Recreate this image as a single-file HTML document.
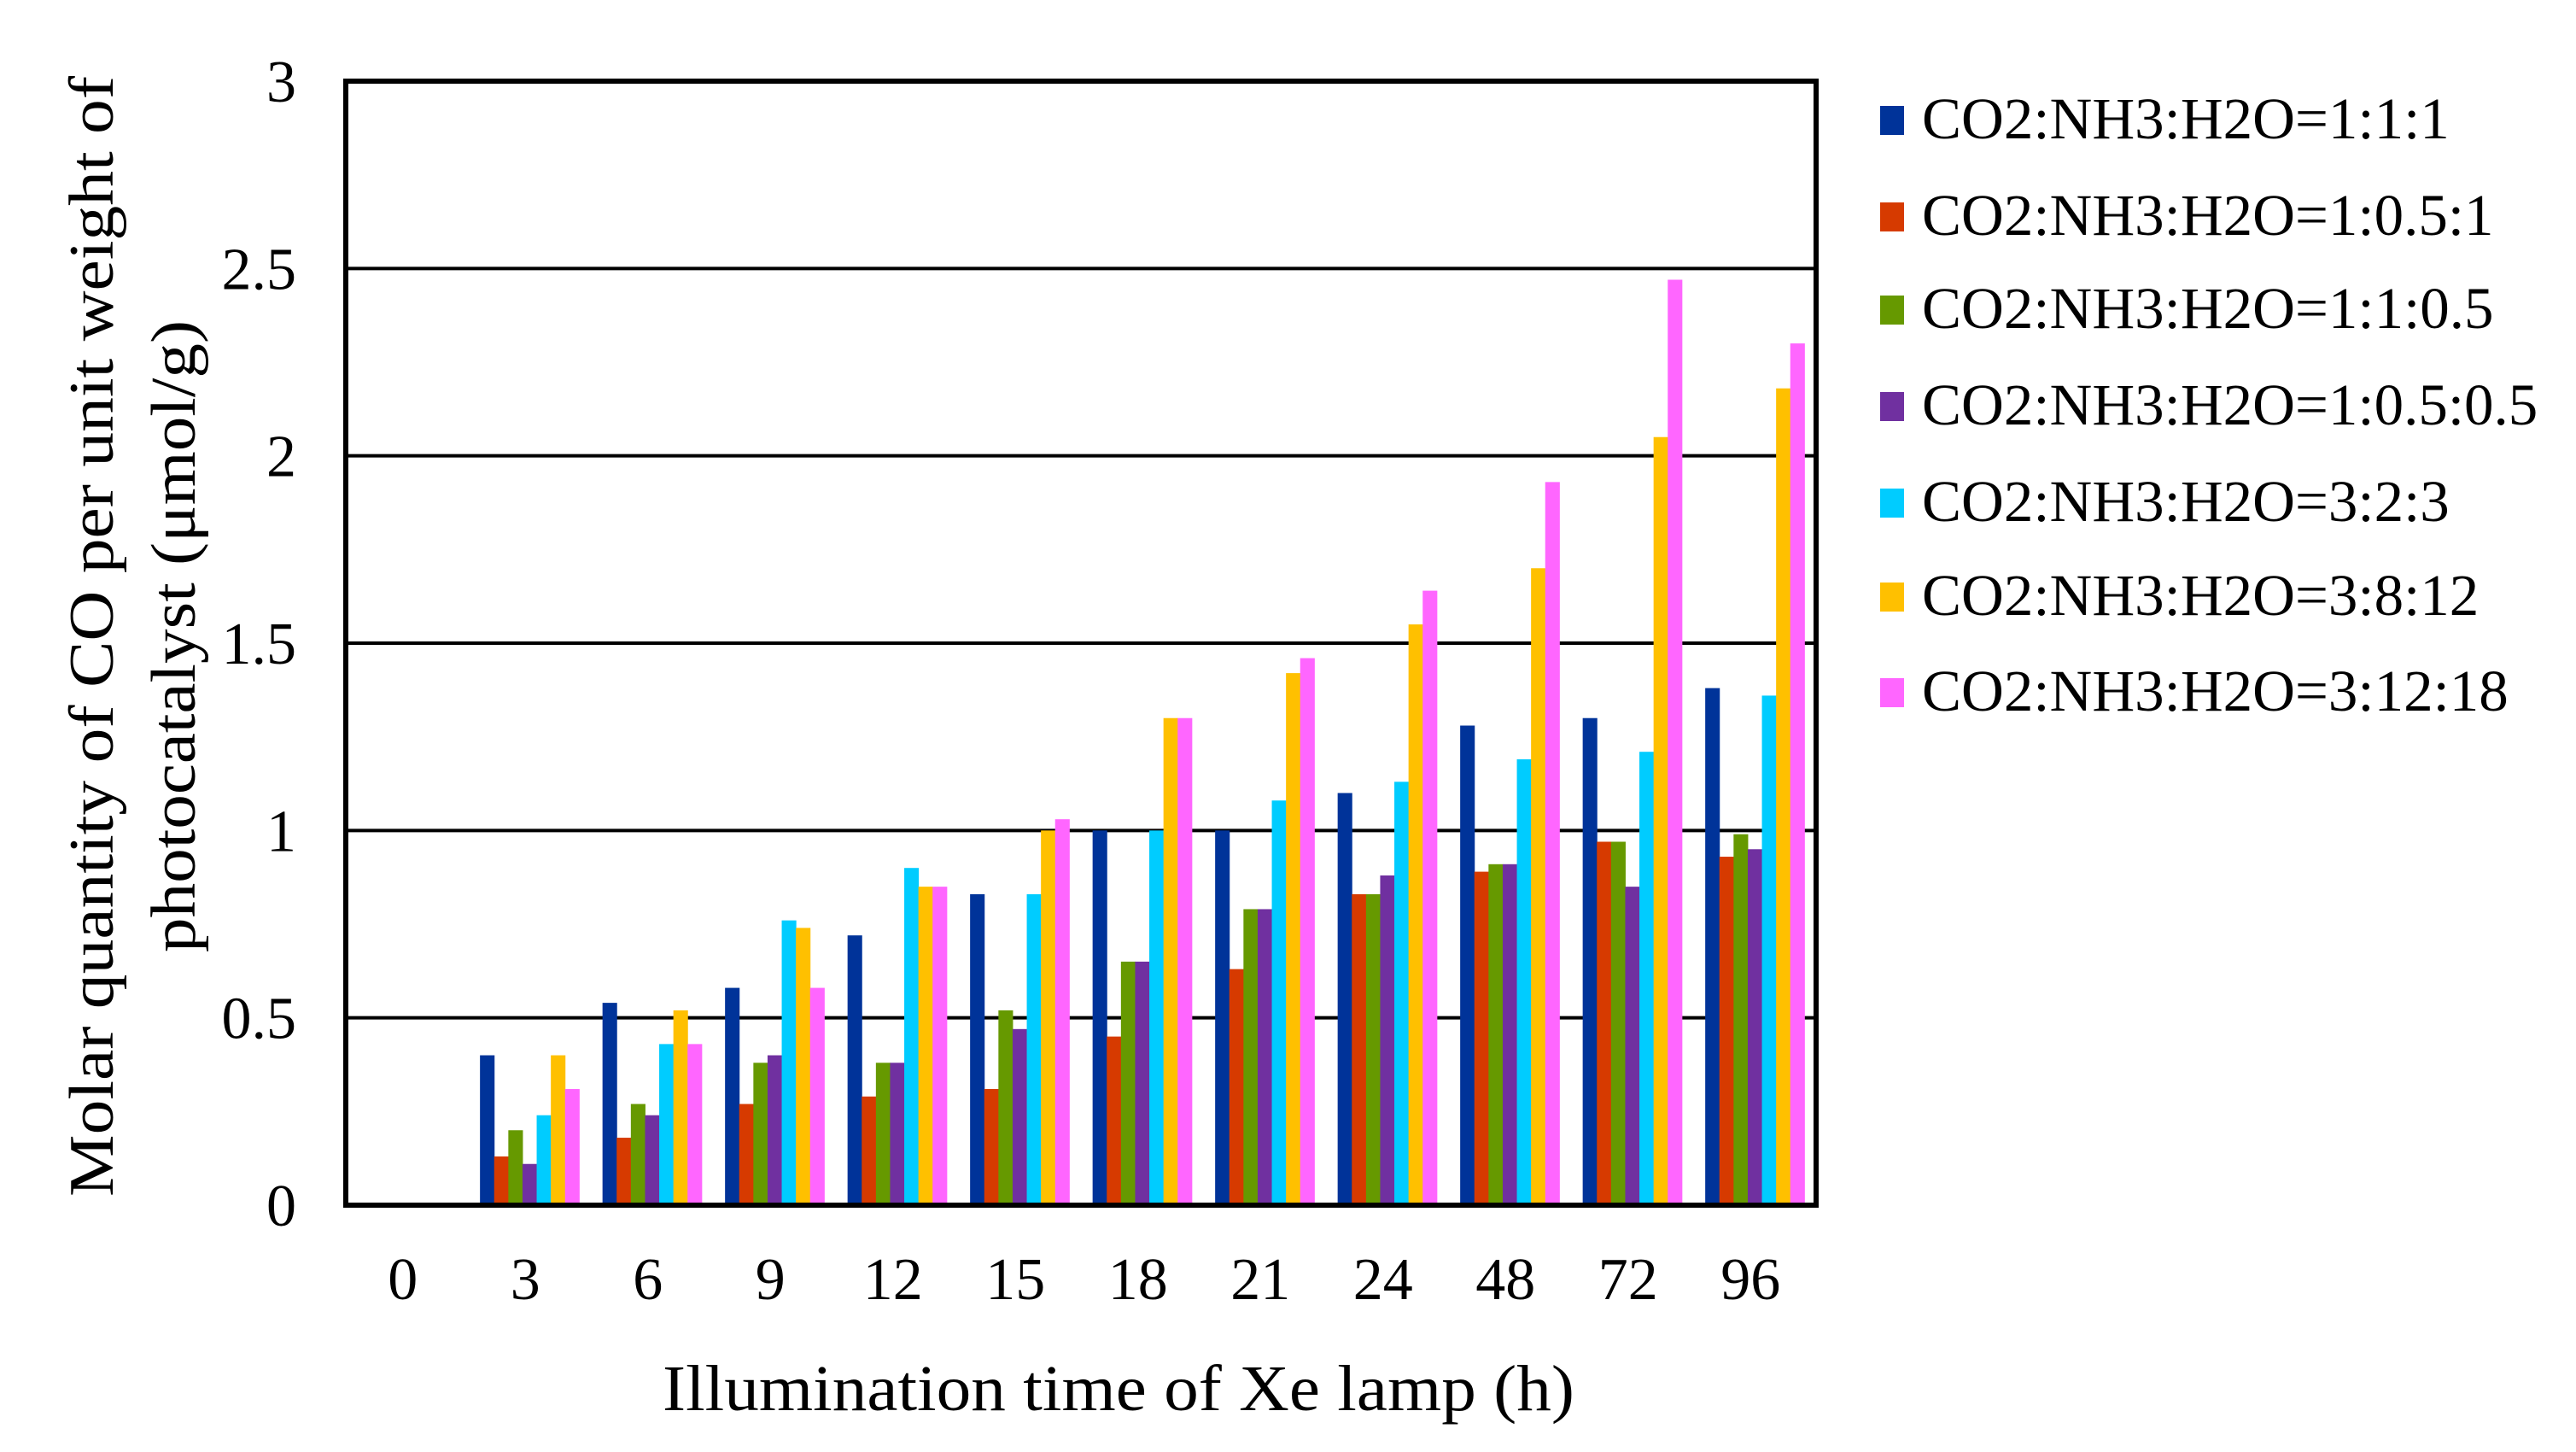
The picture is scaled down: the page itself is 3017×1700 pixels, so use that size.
<!DOCTYPE html>
<html><head><meta charset="utf-8"><style>
html,body{margin:0;padding:0;background:#fff;}
svg{display:block;font-family:"Liberation Serif",serif;}
</style></head><body>
<svg id="chart" width="3017" height="1700" viewBox="0 0 3017 1700" xmlns="http://www.w3.org/2000/svg">
<rect width="3017" height="1700" fill="#fff"/>
<g id="grid"></g><g id="bars"></g><g id="axes"></g><g id="legend"></g>
<text x="1310" y="1651" font-size="76" text-anchor="middle" textLength="1068" lengthAdjust="spacingAndGlyphs">Illumination  time  of Xe lamp  (h)</text>
<text transform="translate(132,745) rotate(-90)" font-size="74" text-anchor="middle" textLength="1312" lengthAdjust="spacingAndGlyphs">Molar  quantity  of CO per unit  weight  of</text>
<text transform="translate(228,745) rotate(-90)" font-size="74" text-anchor="middle" textLength="740" lengthAdjust="spacingAndGlyphs">photocatalyst (μmol/g)</text>
</svg>
<script>
const categories = ["0","3","6","9","12","15","18","21","24","48","72","96"];
const seriesNames = ["CO2:NH3:H2O=1:1:1","CO2:NH3:H2O=1:0.5:1","CO2:NH3:H2O=1:1:0.5","CO2:NH3:H2O=1:0.5:0.5","CO2:NH3:H2O=3:2:3","CO2:NH3:H2O=3:8:12","CO2:NH3:H2O=3:12:18"];
const s1 = [0,0.40,0.54,0.58,0.72,0.83,1.00,1.00,1.10,1.28,1.30,1.38];
const s2 = [0,0.13,0.18,0.27,0.29,0.31,0.45,0.63,0.83,0.89,0.97,0.93];
const s3 = [0,0.20,0.27,0.38,0.38,0.52,0.65,0.79,0.83,0.91,0.97,0.99];
const s4 = [0,0.11,0.24,0.40,0.38,0.47,0.65,0.79,0.88,0.91,0.85,0.95];
const s5 = [0,0.24,0.43,0.76,0.90,0.83,1.00,1.08,1.13,1.19,1.21,1.36];
const s6 = [0,0.40,0.52,0.74,0.85,1.00,1.30,1.42,1.55,1.70,2.05,2.18];
const s7 = [0,0.31,0.43,0.58,0.85,1.03,1.30,1.46,1.64,1.93,2.47,2.30];
const yTicks = [0,0.5,1,1.5,2,2.5,3];
const yTickLabels = ["0","0.5","1","1.5","2","2.5","3"];
const colors = ["#003399","#d63a00","#669900","#7030a0","#00ccff","#ffc000","#ff66ff"];
const series = [s1,s2,s3,s4,s5,s6,s7];
const NS="http://www.w3.org/2000/svg";
const L=405,R=2127,T=95,B=1411,yMax=3;
const y = v => B - v/yMax*(B-T);
const band = (R-L)/categories.length;
const barW = 16.6;
const x = (i,k) => L + i*band + (band - 7*barW)/2 + k*barW;
function mk(tag,attrs,parent){const e=document.createElementNS(NS,tag);for(const a in attrs)e.setAttribute(a,attrs[a]);parent.appendChild(e);return e;}
const grid=document.getElementById('grid'),bars=document.getElementById('bars'),axes=document.getElementById('axes'),legend=document.getElementById('legend');
yTicks.forEach((t,i)=>{
  if(t>0){const g=mk('line',{x1:L,x2:R,y1:y(t),y2:y(t),stroke:'#000','stroke-width':4},grid);
  
  }
  const tl=mk('text',{x:347,y:y(t)+24,'font-size':70,'text-anchor':'end'},axes);
  tl.textContent=yTickLabels[i];
  
  
});
series.forEach((s,k)=>{
  s.forEach((v,i)=>{
    if(v<=0)return;
    const r=mk('rect',{x:x(i,k),y:y(v),width:barW+0.5,height:B-y(v),fill:colors[k]},bars);
    
    
  });
});
const frame=mk('path',{d:`M${L} ${T} H${R} V${B} H${L} Z`,fill:'none',stroke:'#000','stroke-width':6},axes);


categories.forEach((c,i)=>{
  const t=mk('text',{x:L-5+(i+0.5)*band,y:1521,'font-size':70,'text-anchor':'middle'},axes);
  t.textContent=c;
  
  
});
const ly=[162,275,384,497,610,720,832];
seriesNames.forEach((n,k)=>{
  const g=mk('g',{},legend);
  
  
  mk('rect',{x:2202,y:ly[k]-38,width:28,height:34,fill:colors[k]},g);
  const t=mk('text',{x:2251,y:ly[k],'font-size':69},g);
  t.textContent=n;
});
</script>
</body></html>
